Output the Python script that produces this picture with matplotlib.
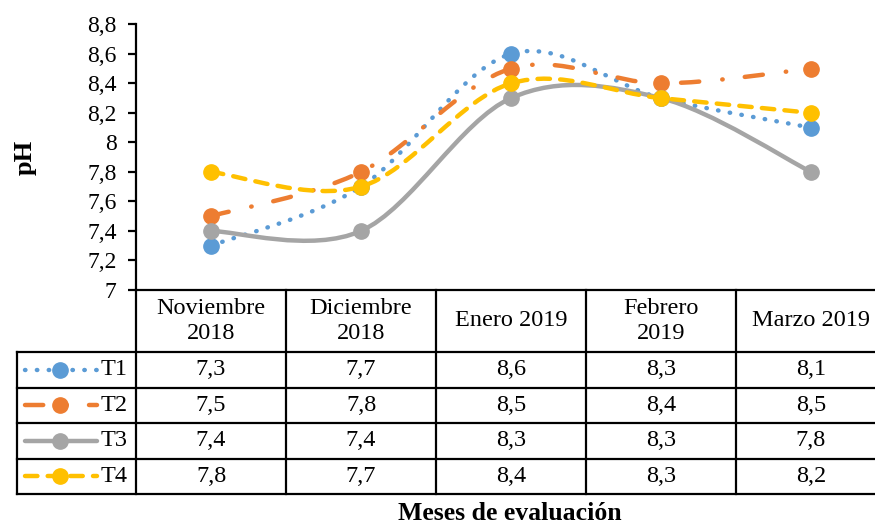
import numpy as np
import matplotlib
matplotlib.use('Agg')
import matplotlib.pyplot as plt
from matplotlib.path import Path
from matplotlib.patches import PathPatch
from matplotlib.transforms import blended_transform_factory

plt.rcParams['font.family'] = ['Liberation Serif', 'DejaVu Serif']

# datos
meses = ['Noviembre\n2018', 'Diciembre\n2018', 'Enero 2019', 'Febrero\n2019', 'Marzo 2019']
series = ['T1', 'T2', 'T3', 'T4']
t1 = [7.3, 7.7, 8.6, 8.3, 8.1]
t2 = [7.5, 7.8, 8.5, 8.4, 8.5]
t3 = [7.4, 7.4, 8.3, 8.3, 7.8]
t4 = [7.8, 7.7, 8.4, 8.3, 8.2]
yticks = [7, 7.2, 7.4, 7.6, 7.8, 8, 8.2, 8.4, 8.6, 8.8]

valores = [t1, t2, t3, t4]
colores = ['#5B9BD5', '#ED7D31', '#A5A5A5', '#FFC000']
estilos = [(0, (0.1, 2.57)), (0, (4.1, 5.2, 0.1, 5.0)), 'solid', (0, (2.8, 2.3))]
lw = 3.2


def coma(v, dec=1):
    return f"{v:.{dec}f}".replace('.', ',')


def curva_suave(xs, ys):
    # bezier tipo Excel (catmull-rom, tension 1/6)
    pts = np.column_stack([xs, ys]).astype(float)
    n = len(pts)
    verts = [pts[0]]
    codes = [Path.MOVETO]
    for i in range(n - 1):
        p0 = pts[max(i - 1, 0)]
        p1 = pts[i]
        p2 = pts[i + 1]
        p3 = pts[min(i + 2, n - 1)]
        verts += [p1 + (p2 - p0) / 6, p2 - (p3 - p1) / 6, p2]
        codes += [Path.CURVE4] * 3
    return Path(verts, codes)


fig = plt.figure(figsize=(8.75, 5.25), dpi=100)
W, H = 875, 525
ax = fig.add_axes([136 / W, (H - 290) / H, 750 / W, (290 - 24.3) / H])
tb = fig.add_axes([0, 0, 1, 1], zorder=-1)
tb.set_xlim(0, W)
tb.set_ylim(H, 0)
tb.axis('off')

x = np.arange(len(meses))
for k, (vals, col, ls) in enumerate(zip(valores, colores, estilos)):
    pp = PathPatch(curva_suave(x, vals), fill=False, edgecolor=col, lw=lw,
                   linestyle=ls, capstyle='round', joinstyle='round', zorder=2 + 2 * k)
    ax.add_patch(pp)
    ax.plot(x, vals, 'o', color=col, ms=11, mec=col, zorder=3 + 2 * k, clip_on=False)

ax.set_xlim(-0.5, len(meses) - 0.5)
ax.set_ylim(7, 8.8)
ax.set_yticks(yticks)
ax.set_yticklabels([f"{v:g}".replace('.', ',') for v in yticks], fontsize=17)
ax.set_xticks([])
for s in ['top', 'right']:
    ax.spines[s].set_visible(False)
ax.spines['left'].set_linewidth(1.6)
ax.spines['bottom'].set_linewidth(1.6)
ax.tick_params(axis='y', length=6, width=1.6, pad=8)
ax.patch.set_alpha(0)

# tabla de datos
tr = blended_transform_factory(ax.transData, tb.transData)
filas_y = [352, 387.5, 423, 458.5, 494]
kw = dict(color='black', lw=1.6, clip_on=False, solid_capstyle='projecting')
for i in range(len(meses) + 1):
    ax.plot([i - 0.5, i - 0.5], [290, filas_y[-1]], transform=tr, **kw)
for yy in filas_y:
    tb.plot([17, 886], [yy, yy], **kw)
tb.plot([17, 17], [filas_y[0], filas_y[-1]], **kw)

for i, m in enumerate(meses):
    ax.text(i, 321, m, transform=tr, ha='center', va='center', fontsize=17.5,
            linespacing=1.2)

for r, (nom, vals, col, ls) in enumerate(zip(series, valores, colores, estilos)):
    yc = (filas_y[r] + filas_y[r + 1]) / 2
    for i, v in enumerate(vals):
        ax.text(i, yc, coma(v), transform=tr, ha='center', va='center', fontsize=17.5)
    tb.plot([25, 97], [yc, yc], color=col, lw=lw, linestyle=ls,
            dash_capstyle='round', solid_capstyle='round')
    tb.plot([60], [yc], 'o', color=col, ms=11, mec=col)
    tb.text(101, yc, nom, ha='left', va='center', fontsize=17.5)

fig.text(25 / W, 1 - 157 / H, 'pH', rotation=90, ha='center', va='center',
         fontsize=19, fontweight='bold')
fig.text(510 / W, 1 - 513 / H, 'Meses de evaluación', ha='center', va='center',
         fontsize=18.5, fontweight='bold')

fig.savefig('out.png', dpi=100)
